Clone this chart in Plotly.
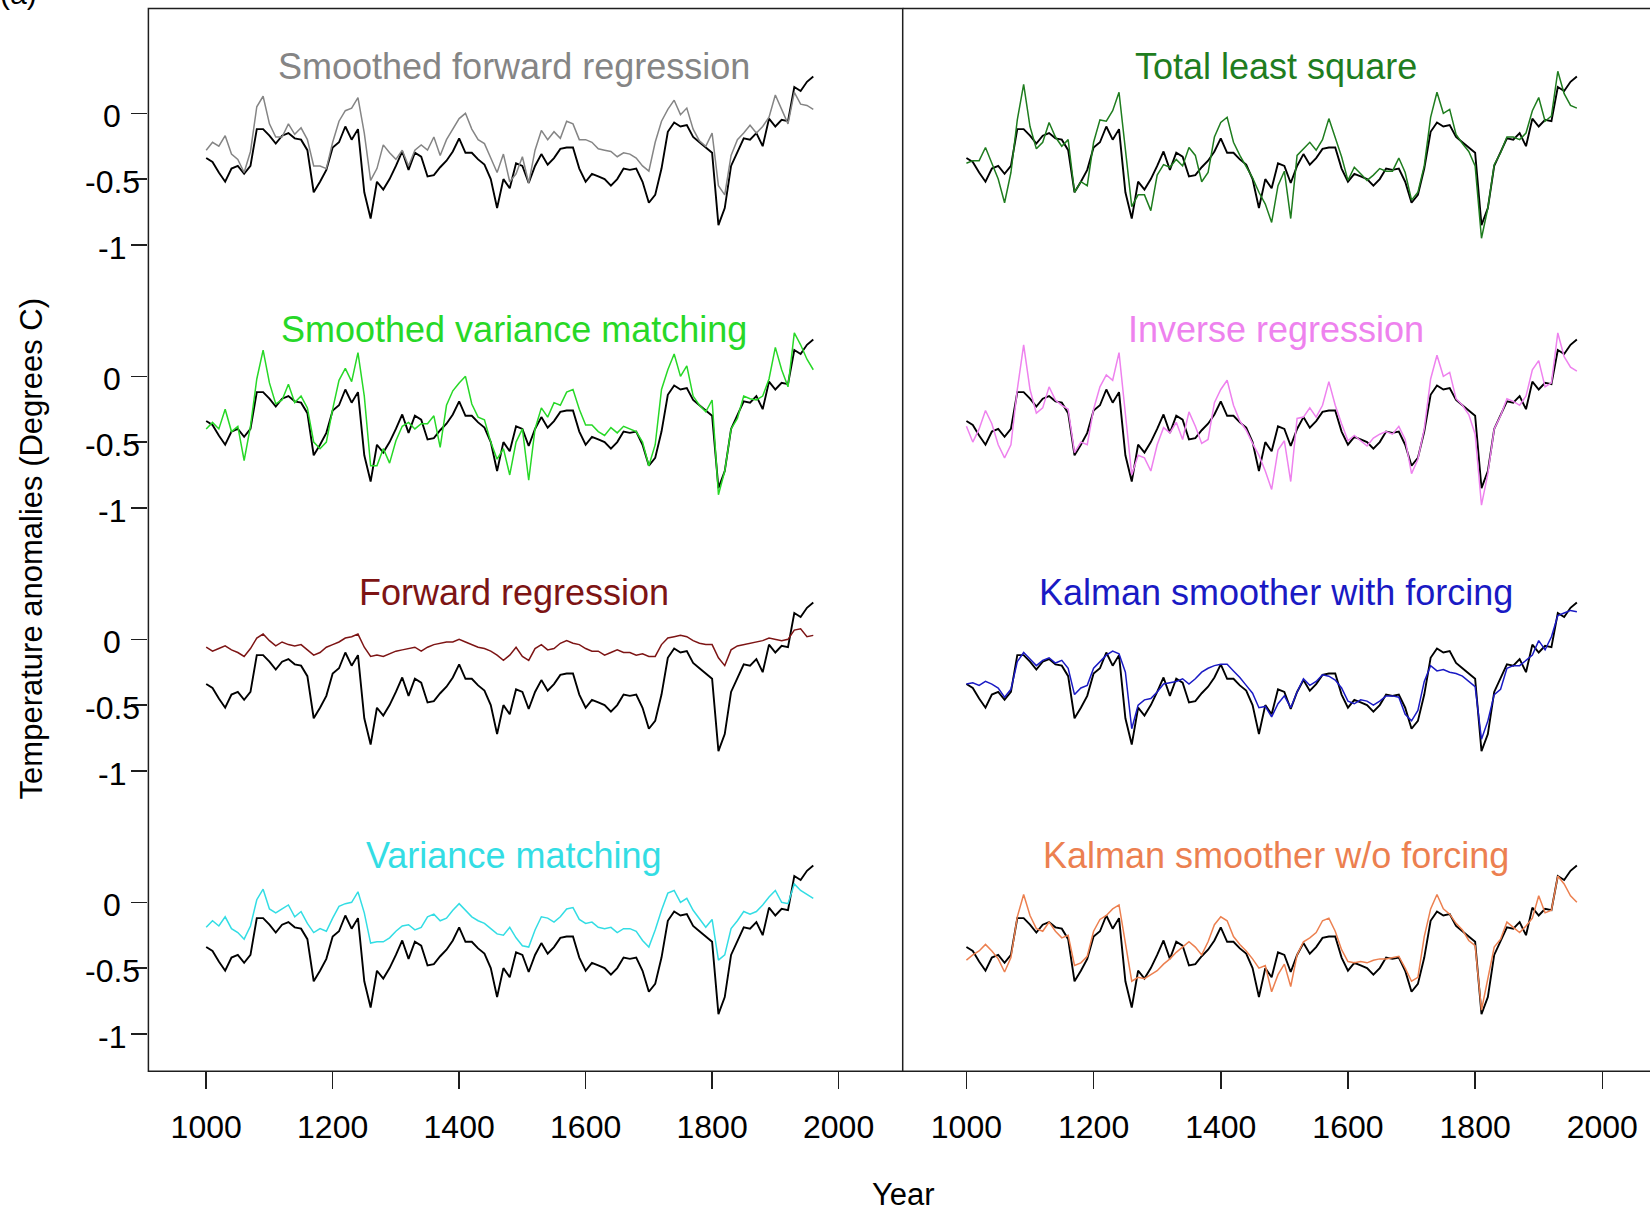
import plotly.graph_objects as go

# Decadal sampling of the reconstructions, 1000-1960 AD
years = list(range(1000, 1961, 10))

# Target temperature anomaly series (black line in every panel)
target = [
    -0.34, -0.37, -0.45, -0.52, -0.42, -0.40, -0.46, -0.40, -0.12, -0.12,
    -0.17, -0.23, -0.17, -0.15, -0.19, -0.20, -0.28, -0.60, -0.52, -0.43,
    -0.26, -0.22, -0.10, -0.20, -0.12, -0.60, -0.80, -0.52, -0.58, -0.50,
    -0.40, -0.29, -0.43, -0.30, -0.33, -0.48, -0.47, -0.41, -0.36, -0.29,
    -0.19, -0.30, -0.30, -0.35, -0.39, -0.50, -0.72, -0.50, -0.57, -0.38,
    -0.40, -0.53, -0.40, -0.31, -0.39, -0.34, -0.27, -0.26, -0.26, -0.42,
    -0.52, -0.46, -0.48, -0.50, -0.55, -0.50, -0.42, -0.43, -0.42, -0.52,
    -0.68, -0.62, -0.42, -0.14, -0.07, -0.10, -0.09, -0.18, -0.22, -0.26,
    -0.30, -0.85, -0.72, -0.40, -0.30, -0.19, -0.20, -0.15, -0.25, -0.04,
    -0.10, -0.05, -0.06, 0.20, 0.17, 0.24, 0.28,
]

smoothed_forward = [
    -0.28, -0.22, -0.25, -0.17, -0.31, -0.35, -0.45, -0.29, 0.05, 0.13,
    -0.08, -0.18, -0.18, -0.08, -0.16, -0.11, -0.20, -0.40, -0.40, -0.42,
    -0.22, -0.06, 0.02, 0.04, 0.12, -0.15, -0.51, -0.42, -0.24, -0.30,
    -0.35, -0.28, -0.40, -0.28, -0.24, -0.28, -0.18, -0.32, -0.20, -0.12,
    -0.04, 0.00, -0.12, -0.20, -0.23, -0.34, -0.45, -0.31, -0.52, -0.46,
    -0.33, -0.53, -0.28, -0.13, -0.20, -0.14, -0.19, -0.06, -0.08, -0.20,
    -0.20, -0.22, -0.27, -0.28, -0.29, -0.33, -0.30, -0.31, -0.34, -0.40,
    -0.44, -0.22, -0.06, 0.03, 0.10, -0.01, 0.04, -0.12, -0.21, -0.25,
    -0.15, -0.55, -0.62, -0.32, -0.20, -0.15, -0.09, -0.15, -0.10, -0.03,
    0.14, 0.03, -0.08, 0.16, 0.07, 0.06, 0.03,
]

smoothed_variance = [
    -0.40, -0.35, -0.40, -0.25, -0.42, -0.38, -0.64, -0.38, -0.02, 0.20,
    -0.05, -0.21, -0.18, -0.06, -0.20, -0.15, -0.24, -0.50, -0.55, -0.50,
    -0.25, -0.03, 0.06, -0.04, 0.18, -0.15, -0.68, -0.68, -0.55, -0.66,
    -0.49, -0.38, -0.35, -0.40, -0.36, -0.36, -0.30, -0.54, -0.22, -0.11,
    -0.05, 0.00, -0.21, -0.31, -0.33, -0.50, -0.63, -0.55, -0.75, -0.50,
    -0.40, -0.79, -0.40, -0.24, -0.31, -0.20, -0.22, -0.12, -0.10, -0.25,
    -0.37, -0.37, -0.42, -0.45, -0.39, -0.43, -0.38, -0.40, -0.42, -0.50,
    -0.68, -0.52, -0.10, 0.05, 0.17, 0.00, 0.08, -0.15, -0.22, -0.27,
    -0.18, -0.90, -0.72, -0.40, -0.32, -0.15, -0.17, -0.18, -0.15, -0.02,
    0.22, 0.05, -0.08, 0.33, 0.24, 0.13, 0.05,
]

forward_regression = [
    -0.06, -0.09, -0.07, -0.05, -0.08, -0.10, -0.13, -0.07, 0.01, 0.04,
    -0.01, -0.05, -0.02, -0.04, -0.05, -0.04, -0.08, -0.12, -0.10, -0.06,
    -0.04, -0.02, 0.01, 0.02, 0.04, -0.06, -0.13, -0.12, -0.13, -0.11,
    -0.09, -0.08, -0.07, -0.06, -0.09, -0.06, -0.04, -0.03, -0.02, -0.02,
    0.00, -0.02, -0.04, -0.06, -0.07, -0.09, -0.12, -0.16, -0.12, -0.06,
    -0.13, -0.16, -0.07, -0.04, -0.08, -0.07, -0.03, -0.01, -0.03, -0.04,
    -0.07, -0.09, -0.09, -0.12, -0.10, -0.08, -0.10, -0.10, -0.12, -0.11,
    -0.13, -0.13, -0.04, 0.01, 0.02, 0.03, 0.02, -0.01, -0.03, -0.04,
    -0.04, -0.14, -0.20, -0.08, -0.05, -0.04, -0.03, -0.02, -0.01, 0.01,
    0.00, -0.01, 0.00, 0.07, 0.08, 0.02, 0.03,
]

variance_matching = [
    -0.19, -0.14, -0.18, -0.11, -0.20, -0.23, -0.28, -0.18, 0.02, 0.10,
    -0.05, -0.08, -0.05, -0.02, -0.11, -0.07, -0.16, -0.23, -0.20, -0.22,
    -0.12, -0.03, -0.01, 0.00, 0.08, -0.08, -0.31, -0.30, -0.30, -0.27,
    -0.22, -0.18, -0.17, -0.21, -0.19, -0.11, -0.09, -0.14, -0.12, -0.06,
    -0.01, -0.06, -0.11, -0.14, -0.16, -0.20, -0.24, -0.25, -0.19, -0.27,
    -0.33, -0.34, -0.21, -0.11, -0.12, -0.15, -0.11, -0.05, -0.04, -0.13,
    -0.16, -0.15, -0.19, -0.20, -0.19, -0.23, -0.20, -0.20, -0.22, -0.29,
    -0.34, -0.21, -0.06, 0.07, 0.09, 0.00, 0.03, -0.06, -0.13, -0.19,
    -0.13, -0.44, -0.40, -0.20, -0.14, -0.07, -0.09, -0.07, -0.02, 0.04,
    0.09, 0.00, -0.01, 0.14, 0.09, 0.06, 0.03,
]

total_least_square = [
    -0.38, -0.36, -0.36, -0.26, -0.38, -0.50, -0.68, -0.45, -0.05, 0.22,
    -0.10, -0.27, -0.22, -0.07, -0.18, -0.25, -0.20, -0.60, -0.52, -0.55,
    -0.22, -0.05, -0.06, 0.02, 0.16, -0.30, -0.71, -0.62, -0.62, -0.74,
    -0.47, -0.39, -0.41, -0.35, -0.40, -0.26, -0.32, -0.52, -0.45, -0.18,
    -0.07, -0.03, -0.22, -0.32, -0.41, -0.49, -0.60, -0.69, -0.83, -0.55,
    -0.44, -0.80, -0.32, -0.27, -0.22, -0.28, -0.20, -0.04, -0.18, -0.33,
    -0.51, -0.41, -0.46, -0.51, -0.47, -0.42, -0.44, -0.44, -0.34, -0.45,
    -0.66, -0.60, -0.40, -0.03, 0.16, 0.00, 0.03, -0.16, -0.23, -0.29,
    -0.40, -0.95, -0.72, -0.39, -0.30, -0.18, -0.18, -0.20, -0.15, 0.02,
    0.12, -0.06, -0.02, 0.32, 0.15, 0.06, 0.04,
]

inverse_regression = [
    -0.38, -0.50, -0.40, -0.26, -0.36, -0.52, -0.62, -0.52, -0.10, 0.24,
    -0.10, -0.28, -0.24, -0.08, -0.18, -0.22, -0.25, -0.58, -0.50, -0.52,
    -0.25, -0.08, 0.01, -0.03, 0.18, -0.30, -0.75, -0.60, -0.62, -0.72,
    -0.52, -0.39, -0.43, -0.35, -0.48, -0.27, -0.38, -0.51, -0.48, -0.20,
    -0.10, -0.03, -0.22, -0.34, -0.41, -0.51, -0.60, -0.72, -0.86, -0.56,
    -0.49, -0.80, -0.32, -0.31, -0.24, -0.31, -0.22, -0.04, -0.22, -0.36,
    -0.49, -0.45, -0.49, -0.53, -0.47, -0.44, -0.42, -0.44, -0.38, -0.48,
    -0.74, -0.63, -0.40, -0.02, 0.16, 0.00, 0.03, -0.17, -0.22, -0.29,
    -0.44, -0.98, -0.74, -0.40, -0.30, -0.17, -0.19, -0.22, -0.15, 0.05,
    0.12, -0.08, -0.05, 0.33, 0.15, 0.07, 0.04,
]

kalman_forcing = [
    -0.34, -0.33, -0.35, -0.32, -0.34, -0.37, -0.44, -0.38, -0.17, -0.10,
    -0.15, -0.20, -0.16, -0.14, -0.18, -0.16, -0.22, -0.42, -0.37, -0.35,
    -0.22, -0.17, -0.12, -0.09, -0.11, -0.25, -0.68, -0.50, -0.46, -0.45,
    -0.40, -0.34, -0.33, -0.32, -0.30, -0.34, -0.30, -0.25, -0.22, -0.20,
    -0.19, -0.19, -0.24, -0.29, -0.35, -0.41, -0.52, -0.51, -0.59, -0.49,
    -0.43, -0.52, -0.40, -0.30, -0.35, -0.32, -0.27, -0.28, -0.31, -0.37,
    -0.47, -0.49, -0.46, -0.47, -0.50, -0.47, -0.43, -0.43, -0.44, -0.57,
    -0.62, -0.54, -0.32, -0.20, -0.24, -0.23, -0.25, -0.26, -0.28, -0.32,
    -0.36, -0.76, -0.62, -0.42, -0.38, -0.22, -0.20, -0.20, -0.16, -0.12,
    -0.01, -0.08, 0.02, 0.18, 0.20, 0.22, 0.21,
]

kalman_no_forcing = [
    -0.44, -0.40, -0.37, -0.32, -0.37, -0.43, -0.53, -0.42, -0.11, 0.06,
    -0.10, -0.20, -0.22, -0.15, -0.22, -0.27, -0.25, -0.48, -0.46, -0.41,
    -0.22, -0.13, -0.10, -0.05, -0.02, -0.30, -0.60, -0.57, -0.58, -0.55,
    -0.52, -0.47, -0.43, -0.38, -0.34, -0.30, -0.34, -0.40, -0.30, -0.17,
    -0.11, -0.14, -0.26, -0.32, -0.37, -0.43, -0.50, -0.48, -0.68, -0.55,
    -0.47, -0.64, -0.40, -0.30, -0.27, -0.23, -0.14, -0.12, -0.22, -0.36,
    -0.45, -0.46, -0.45, -0.46, -0.44, -0.43, -0.43, -0.42, -0.41, -0.50,
    -0.60, -0.57, -0.26, -0.05, 0.06, -0.05, -0.09, -0.16, -0.21, -0.29,
    -0.33, -0.82, -0.58, -0.34, -0.28, -0.15, -0.19, -0.23, -0.18, -0.12,
    0.05, -0.08, -0.06, 0.20, 0.14, 0.05, 0.00,
]

left_panel = [
    ("Smoothed forward regression", smoothed_forward, "#858585"),
    ("Smoothed variance matching", smoothed_variance, "#27d827"),
    ("Forward regression", forward_regression, "#7d1414"),
    ("Variance matching", variance_matching, "#33dde4"),
]
right_panel = [
    ("Total least square", total_least_square, "#1f7d1f"),
    ("Inverse regression", inverse_regression, "#ee82ee"),
    ("Kalman smoother with forcing", kalman_forcing, "#1a1ac4"),
    ("Kalman smoother w/o forcing", kalman_no_forcing, "#ec8050"),
]

x_ticks = [1000, 1200, 1400, 1600, 1800, 2000]
y_ticks = [0, -0.5, -1]
y_tick_text = ["0", "-0.5", "-1"]

FONT = "Liberation Sans, Arial, Helvetica, sans-serif"
INK = "#1e1e1e"
W, H = 1650, 1212

# page geometry in pixels
PANEL_L, PANEL_MID, PANEL_R = 148.4, 902.7, 1650.0
TOP, BOTTOM = 8.4, 1071.2
ROW_H = 263.0
Y_TOP = 0.798          # value at the upper edge of each row band
LABEL_X = 112.0        # centre of the y tick labels

fig = go.Figure()
layout_axes = {}
annotations = []

for col, (panel, xname) in enumerate([(left_panel, "x"), (right_panel, "x2")]):
    for row, (title, values, color) in enumerate(panel):
        idx = col * 4 + row + 1
        yname = "y" if idx == 1 else f"y{idx}"
        top_px = TOP + row * ROW_H
        bot_px = BOTTOM if row == 3 else top_px + ROW_H
        y_low = Y_TOP - (bot_px - top_px) / 131.5

        fig.add_trace(go.Scatter(
            x=years, y=target, mode="lines", xaxis=xname, yaxis=yname,
            line=dict(color="black", width=1.9), hoverinfo="skip"))
        fig.add_trace(go.Scatter(
            x=years, y=values, mode="lines", xaxis=xname, yaxis=yname,
            line=dict(color=color, width=1.5), hoverinfo="skip"))

        axis = dict(
            domain=[1 - bot_px / H, 1 - top_px / H],
            range=[y_low, Y_TOP],
            anchor=xname,
            showgrid=False, zeroline=False, showline=False,
            fixedrange=True,
        )
        if col == 0:
            axis.update(tickmode="array", tickvals=y_ticks, ticks="outside",
                        ticklen=16, tickwidth=1.5, tickcolor=INK,
                        showticklabels=False)
            for v, t in zip(y_ticks, y_tick_text):
                annotations.append(dict(
                    x=LABEL_X / W, xref="paper", y=v, yref=yname,
                    text=t, showarrow=False, xanchor="center", yanchor="middle",
                    yshift=-3, font=dict(family=FONT, size=32, color="black")))
        else:
            axis.update(showticklabels=False, ticks="")
        layout_axes["yaxis" if idx == 1 else f"yaxis{idx}"] = axis

        annotations.append(dict(
            x=1487, xref=xname, y=0.355, yref=yname, text=title,
            showarrow=False, xanchor="center", yanchor="middle",
            font=dict(family=FONT, size=36, color=color)))

x_common = dict(
    tickmode="array", tickvals=x_ticks, ticks="outside", ticklen=17,
    tickwidth=1.5, tickcolor=INK, showgrid=False, zeroline=False,
    showline=False, fixedrange=True, ticklabelstandoff=10,
    tickfont=dict(family=FONT, size=32, color="black"),
)
layout_axes["xaxis"] = dict(x_common, domain=[PANEL_L / W, PANEL_MID / W],
                            range=[908.6, 2101.4], anchor="y4")
layout_axes["xaxis2"] = dict(x_common, domain=[PANEL_MID / W, 1.0],
                             range=[899.8, 2075.0], anchor="y8")

annotations += [
    dict(x=31.6 / W, y=1 - 548.8 / H, xref="paper", yref="paper",
         text="Temperature anomalies (Degrees C)", textangle=-90,
         showarrow=False, xanchor="center", yanchor="middle",
         font=dict(family=FONT, size=31, color="black")),
    dict(x=903 / W, y=1 - 1194 / H, xref="paper", yref="paper",
         text="Year", showarrow=False, xanchor="center", yanchor="middle",
         font=dict(family=FONT, size=31, color="black")),
    dict(x=18 / W, y=1 - 12 / H, xref="paper", yref="paper",
         text="(a)", showarrow=False, xanchor="center", yanchor="bottom",
         font=dict(family=FONT, size=30, color="black")),
]

frame = dict(color=INK, width=1.5)
shapes = [
    dict(type="rect", xref="paper", yref="paper",
         x0=PANEL_L / W, x1=PANEL_MID / W, y0=1 - BOTTOM / H, y1=1 - TOP / H,
         line=frame),
    dict(type="line", xref="paper", yref="paper",
         x0=PANEL_MID / W, x1=PANEL_R / W, y0=1 - TOP / H, y1=1 - TOP / H,
         line=frame),
    dict(type="line", xref="paper", yref="paper",
         x0=PANEL_MID / W, x1=PANEL_R / W, y0=1 - BOTTOM / H, y1=1 - BOTTOM / H,
         line=frame),
]

fig.update_layout(
    width=W, height=H,
    margin=dict(l=0, r=0, t=0, b=0),
    paper_bgcolor="white", plot_bgcolor="white",
    showlegend=False,
    annotations=annotations,
    shapes=shapes,
    font=dict(family=FONT, color="black"),
    **layout_axes,
)

fig.write_html(
    "out.html",
    config={"displayModeBar": False, "staticPlot": True},
    post_script="document.body.style.margin='0';document.body.style.overflow='hidden';",
)
